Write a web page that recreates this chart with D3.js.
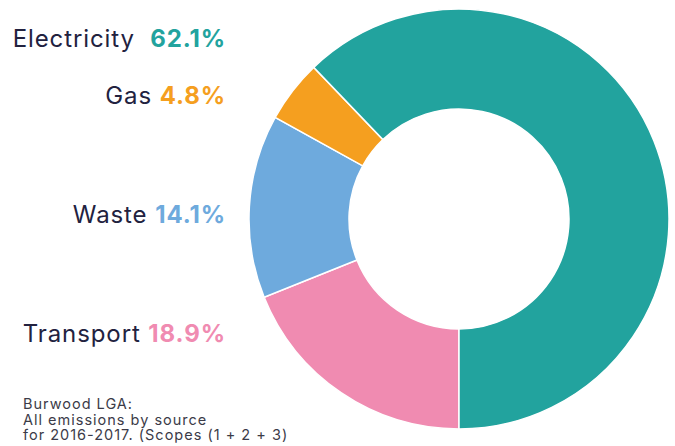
<!DOCTYPE html>
<html>
<head>
<meta charset="utf-8">
<script src="https://cdn.jsdelivr.net/npm/d3@7"></script>
<style>
  body { margin: 0; background: #fff; }
  svg { display: block; font-family: Inter, "Open Sans", sans-serif; }
</style>
</head>
<body>
<div class="container"></div>
<script>
/* Params */
const width = 675;
const height = 446;

// Slices, clockwise from 6 o'clock
const sources = ['Transport', 'Waste', 'Gas', 'Electricity'];
const shares = [18.9, 14.1, 4.8, 62.1];
const colors = ['#f08bb1', '#6eaadd', '#f59f1f', '#22a39e'];

// Label rows, top to bottom
const labelOrder = ['Electricity', 'Gas', 'Waste', 'Transport'];
const labelBaselines = [47, 104, 223, 342];

const noteLines = [
    'Burwood LGA:',
    'All emissions by source',
    'for 2016-2017. (Scopes (1 + 2 + 3)'
];

const textColor = '#22223f';

/* Donut geometry */
const cx = 459;
const cy = 219;
const outerRadius = 210;
const innerRadius = 110;

const data = sources.map((name, i) => ({ name, value: shares[i], color: colors[i] }));

const svg = d3.select('.container')
    .append('svg')
    .attr('width', width)
    .attr('height', height);

const pie = d3.pie()
    .sort(null)
    .value(d => d.value)
    .startAngle(Math.PI)
    .endAngle(3 * Math.PI);

const arc = d3.arc()
    .innerRadius(innerRadius)
    .outerRadius(outerRadius);

svg.append('g')
    .attr('transform', `translate(${cx}, ${cy})`)
    .selectAll('path')
    .data(pie(data))
    .enter()
    .append('path')
    .attr('d', arc)
    .attr('fill', d => d.data.color)
    .attr('stroke', '#fff')
    .attr('stroke-width', 1.5);

// Labels on the left
const labels = svg.append('g')
    .selectAll('text')
    .data(labelOrder.map(name => data.find(d => d.name === name)))
    .enter()
    .append('text')
    .attr('x', 226)
    .attr('y', (d, i) => labelBaselines[i])
    .attr('text-anchor', 'end')
    .style('font-size', '24px')
    .style('letter-spacing', '0.9px');

labels.append('tspan')
    .attr('fill', textColor)
    .text(d => d.name + (d.name === 'Electricity' ? '\u00a0\u00a0' : '\u00a0'));

labels.append('tspan')
    .attr('fill', d => d.color)
    .style('font-weight', 700)
    .text(d => d.value.toFixed(1) + '%');

// Footnote
svg.append('text')
    .attr('x', 23)
    .attr('y', 409)
    .attr('fill', '#3b3b48')
    .style('font-size', '14.5px')
    .style('letter-spacing', '1px')
    .selectAll('tspan')
    .data(noteLines)
    .enter()
    .append('tspan')
    .attr('x', 23)
    .attr('dy', (d, i) => i === 0 ? 0 : 15.5)
    .text(d => d);
</script>
</body>
</html>
